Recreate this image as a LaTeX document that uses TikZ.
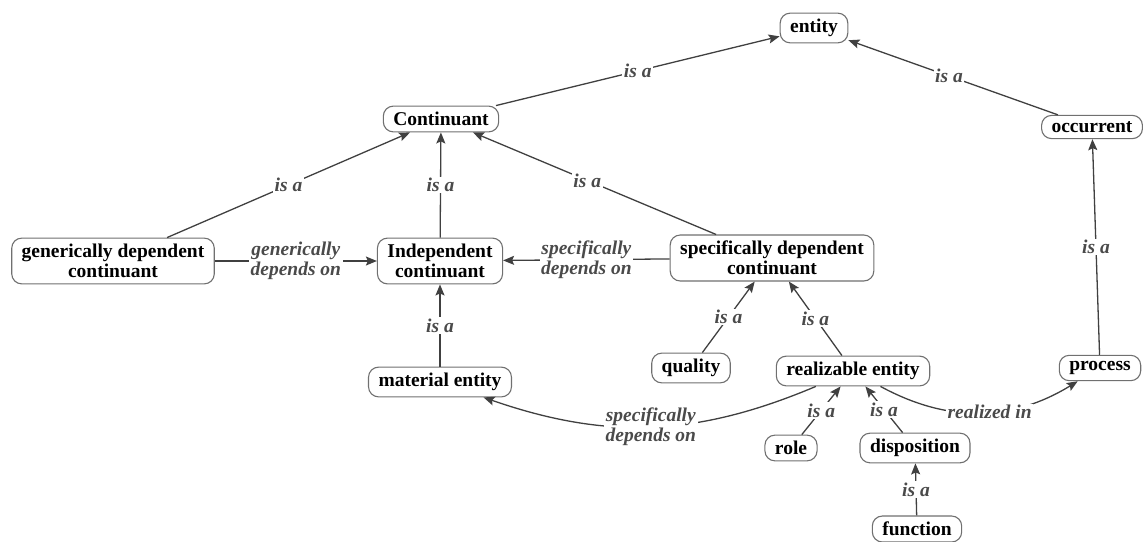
\documentclass[tikz,border=0pt]{standalone}
\usepackage{fontspec}
\setmainfont{Liberation Serif}
\usetikzlibrary{arrows.meta}
\definecolor{boxline}{RGB}{112,112,112}
\definecolor{edgeline}{RGB}{64,64,64}
\definecolor{labeltext}{RGB}{74,74,74}
\tikzset{
  concept/.style={draw=boxline, line width=1.1pt, rounded corners=10pt, fill=white,
    inner xsep=10pt, inner ysep=6pt, align=center,
    font=\fontsize{19.5}{20}\selectfont\bfseries, text=black},
  edge/.style={draw=edgeline, line width=1.3pt,
    -{Stealth[length=11pt,width=9pt,inset=2pt]}},
  rel/.style={fill=white, inner sep=1.5pt, align=center, text=labeltext,
    font=\fontsize{19.5}{20}\selectfont\bfseries\itshape}
}
\begin{document}
\begin{tikzpicture}[x=1pt,y=-1pt]
\useasboundingbox (0,0) rectangle (1146,541);

% concepts
\node[concept] (entity) at (814,28) {entity};
\node[concept] (cont)   at (441,119) {Continuant};
\node[concept] (occ)    at (1092,127) {occurrent};
\node[concept] (gdc)    at (113,261) {generically dependent\\continuant};
\node[concept] (ic)     at (440,261) {Independent\\continuant};
\node[concept] (sdc)    at (772,258) {specifically dependent\\continuant};
\node[concept] (me)     at (440,382) {material entity};
\node[concept] (qual)   at (691,368) {quality};
\node[concept] (re)     at (853,371) {realizable entity};
\node[concept] (proc)   at (1100,368) {process};
\node[concept] (role)   at (791,448) {role};
\node[concept] (disp)   at (915,448) {disposition};
\node[concept] (func)   at (917,529) {function};

% is-a hierarchy
\draw[edge] (cont) -- node[rel] {is a} (entity);
\draw[edge] (occ)  -- node[rel, pos=0.52] {is a} (entity);
\draw[edge] (gdc)  -- node[rel] {is a} (cont);
\draw[edge] (ic)   -- node[rel] {is a} (cont);
\draw[edge] (sdc)  -- node[rel, pos=0.53] {is a} (cont);
\draw[edge] (me)   -- node[rel] {is a} (ic);
\draw[edge] (qual) -- node[rel] {is a} (sdc);
\draw[edge] (re)   -- node[rel] {is a} (sdc);
\draw[edge] (role) -- node[rel] {is a} (re);
\draw[edge] (disp) -- node[rel] {is a} (re);
\draw[edge] (func) -- node[rel] {is a} (disp);
\draw[edge] (proc) -- node[rel] {is a} (occ);

% other relations
\draw[edge] (gdc) -- node[rel] {generically\\depends on} (ic);
\draw[edge] (sdc) -- node[rel] {specifically\\depends on} (ic);
\draw[edge] (re) to[bend left=21] node[rel] {specifically\\depends on} (me);
\draw[edge] (re) to[bend right=30] node[rel, pos=0.55] {realized in} (proc);
\end{tikzpicture}
\end{document}
